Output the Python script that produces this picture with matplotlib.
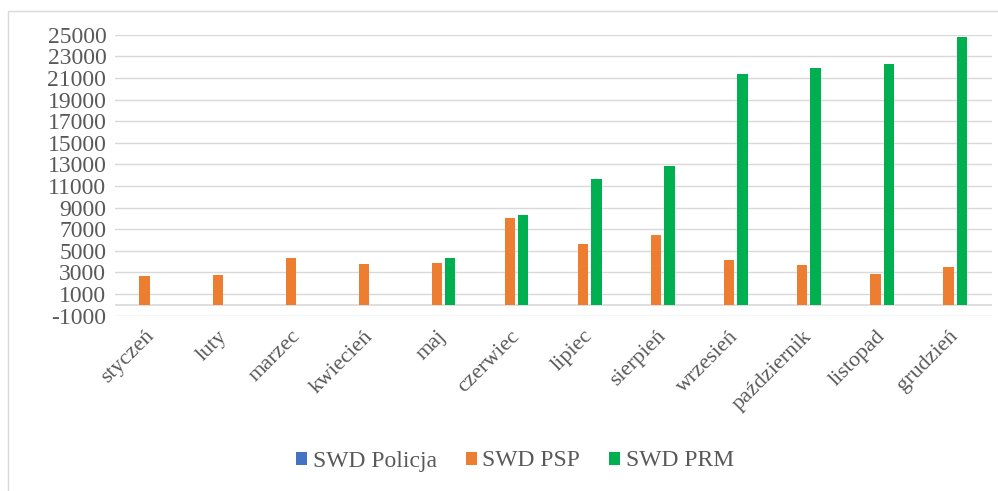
import numpy as np
import matplotlib.pyplot as plt
from matplotlib.patches import Rectangle

months = ['styczeń', 'luty', 'marzec', 'kwiecień', 'maj', 'czerwiec', 'lipiec',
          'sierpień', 'wrzesień', 'październik', 'listopad', 'grudzień']
swd_policja = [0, 0, 0, 0, 0, 0, 0, 0, 0, 0, 0, 0]
swd_psp = [2650, 2800, 4320, 3800, 3830, 8000, 5620, 6450, 4140, 3650, 2870, 3490]
swd_prm = [0, 0, 0, 0, 4300, 8280, 11640, 12870, 21330, 21950, 22260, 24790]
yticks = list(range(-1000, 25001, 2000))

plt.rcParams['font.family'] = ['Liberation Serif', 'DejaVu Serif']
txt = '#595959'
grid = '#d9d9d9'

fig = plt.figure(figsize=(9.98, 4.91), dpi=100)
ax = fig.add_axes([114.7 / 998, 1 - 315.7 / 491, 877 / 998, 281 / 491])

x = np.arange(len(months))
w = 0.141
ax.bar(x - 0.273, swd_policja, w, color='#4472C4', linewidth=0, label='SWD Policja')
ax.bar(x - 0.091, swd_psp, w, color='#ED7D31', linewidth=0, label='SWD PSP')
ax.bar(x + 0.091, swd_prm, w, color='#00B050', linewidth=0, label='SWD PRM')

ax.set_xlim(-0.5, len(months) - 0.5)
ax.set_ylim(-1000, 25000)
ax.set_yticks(yticks)
ax.set_yticklabels([str(v) for v in yticks], fontsize=17, color=txt)
ax.yaxis.grid(True, color=grid, linewidth=1.0)
ax.axhline(0, color=grid, linewidth=1.2, zorder=0.5)
ax.set_axisbelow(True)
ax.tick_params(axis='both', length=0)
ax.tick_params(axis='y', pad=6)
ax.tick_params(axis='x', pad=13)
ax.set_xticks(x)
ax.set_xticklabels(months, fontsize=16, color=txt, rotation=45, ha='right',
                   va='center', rotation_mode='anchor')
for s in ax.spines.values():
    s.set_visible(False)

# chart frame (only left and top edges fall inside the image)
fig.patches.append(Rectangle((8 / 998, -0.1), 1.2, 1.1 - 11 / 491, transform=fig.transFigure,
                             fill=False, edgecolor=grid, linewidth=1.0))

fig.legend(loc='center', bbox_to_anchor=(515 / 998, 1 - 461 / 491), ncol=3, frameon=False,
           prop={'family': 'Liberation Serif', 'size': 17}, labelcolor=txt,
           handlelength=0.47, handleheight=0.47, handletextpad=0.25, columnspacing=1.2)

fig.savefig('out.png', dpi=100)
